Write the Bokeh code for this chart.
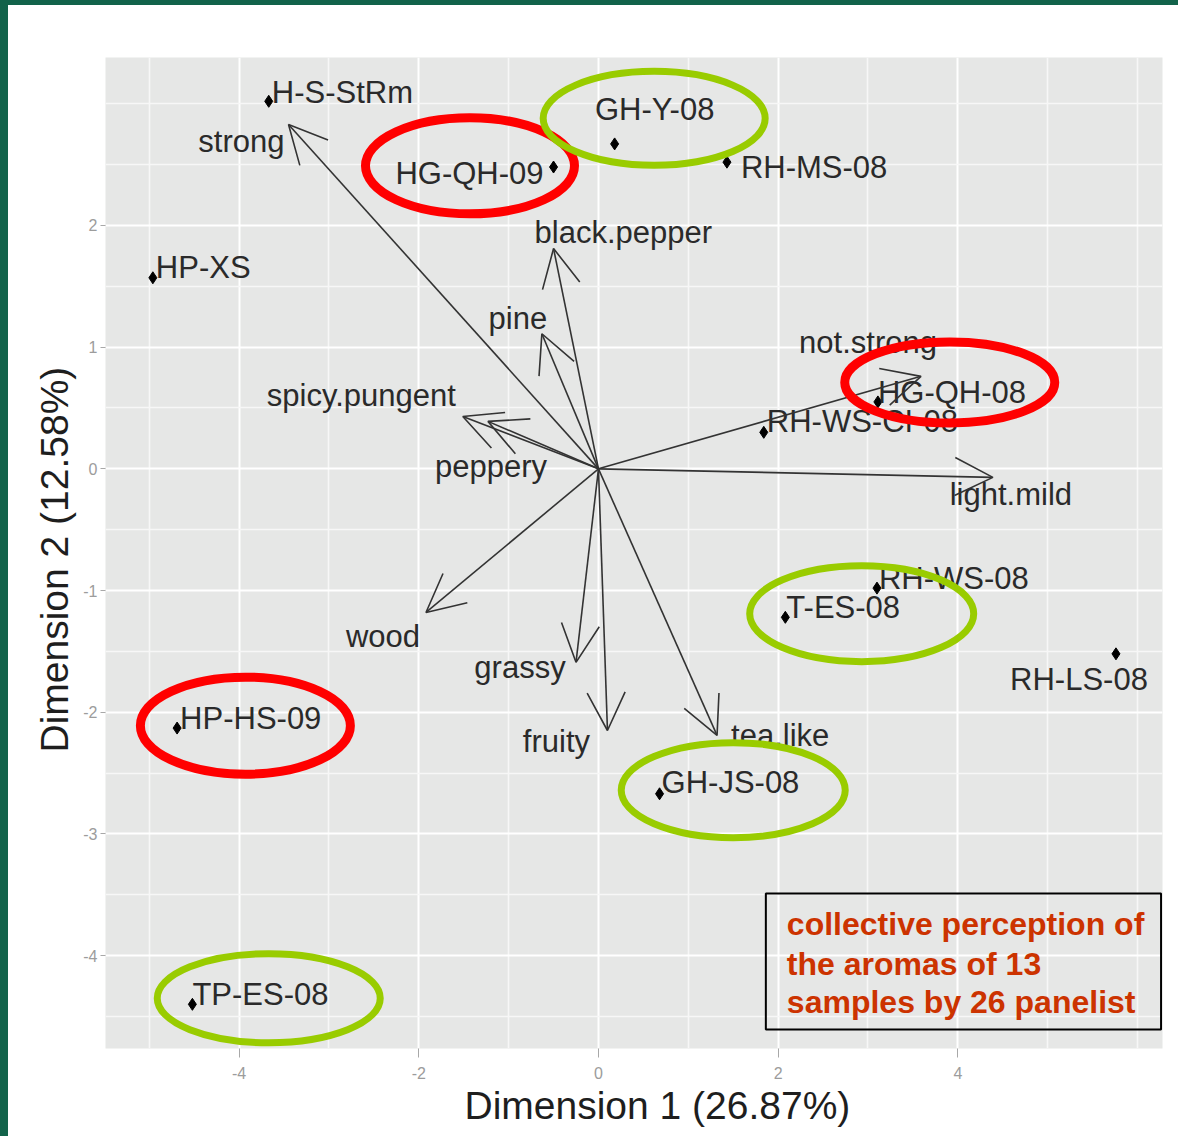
from bokeh.plotting import figure
from bokeh.models import (ColumnDataSource, Range1d, FixedTicker, Arrow, OpenHead,
                          BoxAnnotation, Spacer, Title)
from bokeh.layouts import row, column
from bokeh.core.properties import value, field
from bokeh.embed import file_html
from bokeh.resources import INLINE

# --- sample scores on the first two dimensions ---
sample_names = ["H-S-StRm", "HP-XS", "HG-QH-09", "GH-Y-08", "RH-MS-08", "HG-QH-08",
                "RH-WS-CI-08", "RH-WS-08", "T-ES-08", "RH-LS-08", "HP-HS-09",
                "GH-JS-08", "TP-ES-08"]
sample_dim1 = [-3.67, -4.96, -0.50, 0.18, 1.43, 3.11, 1.84, 3.10, 2.08, 5.76, -4.69, 0.68, -4.52]
sample_dim2 = [3.02, 1.57, 2.48, 2.67, 2.52, 0.55, 0.30, -0.98, -1.22, -1.52, -2.13, -2.67, -4.40]

# --- aroma descriptor loadings (arrows from the origin) ---
descriptor_names = ["strong", "black.pepper", "pine", "not.strong", "spicy.pungent",
                    "peppery", "light.mild", "wood", "grassy", "fruity", "tea.like"]
descriptor_dim1 = [-3.45, -0.50, -0.63, 3.59, -1.51, -1.23, 4.39, -1.92, -0.25, 0.10, 1.32]
descriptor_dim2 = [2.83, 1.81, 1.11, 0.76, 0.43, 0.39, -0.07, -1.18, -1.59, -2.15, -2.19]

# --- highlighted samples ---
red_marks = ["HG-QH-09", "HG-QH-08", "HP-HS-09"]
green_marks = ["GH-Y-08", "T-ES-08", "GH-JS-08", "TP-ES-08"]

note_lines = ["collective perception of", "the aromas of 13", "samples by 26 panelist"]

x_ticks = [-4, -2, 0, 2, 4]
y_ticks = [-4, -3, -2, -1, 0, 1, 2]
x_title = "Dimension 1 (26.87%)"
y_title = "Dimension 2 (12.58%)"

FONT = "Liberation Sans"
INK = "#2A2A2A"

# label placement (pixel offsets, alignment) for each sample label
sample_align = ["left", "left", "right", "center", "left", "left", "left", "left",
                "left", "center", "left", "left", "left"]
sample_dx = [3, 3, -10, 40, 14, 0, 3, 2, 1, -37, 3, 2, 0]
sample_dy = [-9, -10, 6, -34, 5, -9, -11, -10, -10, 26, -10, -11, -10]

descriptor_align = ["right", "left", "center", "center", "right", "center", "center",
                    "center", "center", "center", "left"]
descriptor_dx = [-4, -19, -24, -53, -7, 3, 18, -43, -56, -51, 14]
descriptor_dy = [17, -16, -15, -34, -21, 45, 17, 24, 5, 11, 0]

# highlight ellipses: centre (data) and size (px) for each ring
ring_x = {"HG-QH-09": -1.43, "GH-Y-08": 0.62, "HG-QH-08": 3.91, "T-ES-08": 2.93,
          "HP-HS-09": -3.93, "GH-JS-08": 1.50, "TP-ES-08": -3.67}
ring_y = {"HG-QH-09": 2.49, "GH-Y-08": 2.88, "HG-QH-08": 0.71, "T-ES-08": -1.19,
          "HP-HS-09": -2.11, "GH-JS-08": -2.64, "TP-ES-08": -4.35}
ring_w = {"HG-QH-09": 209, "GH-Y-08": 222, "HG-QH-08": 210, "T-ES-08": 224,
          "HP-HS-09": 210, "GH-JS-08": 224, "TP-ES-08": 223}
ring_h = {"HG-QH-09": 96, "GH-Y-08": 94, "HG-QH-08": 81, "T-ES-08": 96,
          "HP-HS-09": 97, "GH-JS-08": 95, "TP-ES-08": 89}

PLOT_W, PLOT_H = 1170, 1131

p = figure(width=PLOT_W, height=PLOT_H, output_backend="svg", toolbar_location=None,
           x_range=Range1d(-5.487, 6.278), y_range=Range1d(-4.763, 3.380),
           min_border_left=97, min_border_right=16, min_border_top=52,
           min_border_bottom=88)
p.background_fill_color = "#E6E7E6"
p.border_fill_color = "white"
p.outline_line_color = None

p.xaxis.ticker = FixedTicker(ticks=x_ticks, minor_ticks=[-5, -3, -1, 1, 3, 5, 6])
p.yaxis.ticker = FixedTicker(ticks=y_ticks,
                             minor_ticks=[-4.5, -3.5, -2.5, -1.5, -0.5, 0.5, 1.5, 2.5, 3])
p.xaxis.major_label_overrides = {t: str(t) for t in x_ticks}
p.yaxis.major_label_overrides = {t: str(t) for t in y_ticks}
for g in (p.xgrid, p.ygrid):
    g.grid_line_color = "white"
    g.grid_line_width = 2
    g.minor_grid_line_color = "#F7F7F7"
    g.minor_grid_line_width = 1.6

for ax in (p.xaxis, p.yaxis):
    ax.axis_line_color = None
    ax.minor_tick_line_color = None
    ax.major_tick_line_color = "#A8A8A8"
    ax.major_tick_in = 0
    ax.major_label_text_color = "#9C9C9C"
    ax.major_label_text_font = FONT
    ax.major_label_text_font_size = "16px"
p.xaxis.major_tick_out = 9
p.xaxis.major_label_standoff = 9
p.yaxis.major_tick_out = 5
p.yaxis.major_label_standoff = 3

# axis titles, placed from the start of their axes
for text, place, shift, pad in ((x_title, "below", 359, 0), (y_title, "left", 296, 10)):
    p.add_layout(Title(text=text, align="left", offset=shift, standoff=pad,
                       text_font=FONT, text_font_size="39px", text_font_style="normal",
                       text_color="#1E1E1E"), place)

# descriptor arrows
arrow_src = ColumnDataSource(dict(x=descriptor_dim1, y=descriptor_dim2))
p.add_layout(Arrow(x_start=0, y_start=0, x_end="x", y_end="y", source=arrow_src,
                   line_color="#333333", line_width=1.6,
                   end=OpenHead(size=38, line_color="#333333", line_width=1.6)))

# samples
samp_src = ColumnDataSource(dict(x=sample_dim1, y=sample_dim2, name=sample_names,
                                 align=sample_align, dx=sample_dx, dy=sample_dy))
p.scatter("x", "y", source=samp_src, marker="diamond", size=12, color="black")
p.text("x", "y", text="name", source=samp_src, text_align=field("align"),
       text_baseline="middle", x_offset="dx", y_offset="dy",
       text_font=value(FONT), text_font_size="31px", text_color=INK)

desc_src = ColumnDataSource(dict(x=descriptor_dim1, y=descriptor_dim2,
                                 name=descriptor_names, align=descriptor_align,
                                 dx=descriptor_dx, dy=descriptor_dy))
p.text("x", "y", text="name", source=desc_src, text_align=field("align"),
       text_baseline="middle", x_offset="dx", y_offset="dy",
       text_font=value(FONT), text_font_size="31px", text_color=INK)

# rings around the highlighted samples
for names, colour, lw in ((red_marks, "#FF0000", 9), (green_marks, "#99CC00", 7)):
    src = ColumnDataSource(dict(x=[ring_x[n] for n in names], y=[ring_y[n] for n in names],
                                w=[ring_w[n] for n in names], h=[ring_h[n] for n in names]))
    r = p.ellipse("x", "y", width="w", height="h", width_units="screen",
                  height_units="screen", source=src, fill_color=None,
                  line_color=colour, line_width=lw)
    r.level = "overlay"

# note box
p.add_layout(BoxAnnotation(left=1.863, right=6.262, top=-3.489, bottom=-4.607,
                           fill_alpha=0, line_color="black", line_alpha=1.0,
                           line_width=2, level="overlay"))
note_src = ColumnDataSource(dict(x=[2.097] * 3, y=[-3.744, -4.065, -4.385], t=note_lines))
p.text("x", "y", text="t", source=note_src, text_baseline="alphabetic",
       text_align="left", text_font=value(FONT), text_font_style="bold",
       text_font_size="32px", text_color="#CC3300")

GREEN = "#12634A"
left_bar = Spacer(width=8, height=PLOT_H + 5, styles={"background-color": GREEN})
top_bar = Spacer(width=PLOT_W, height=5, styles={"background-color": GREEN})
layout = row(left_bar, column(top_bar, p))

open("out.html", "w").write(file_html(layout, INLINE))
